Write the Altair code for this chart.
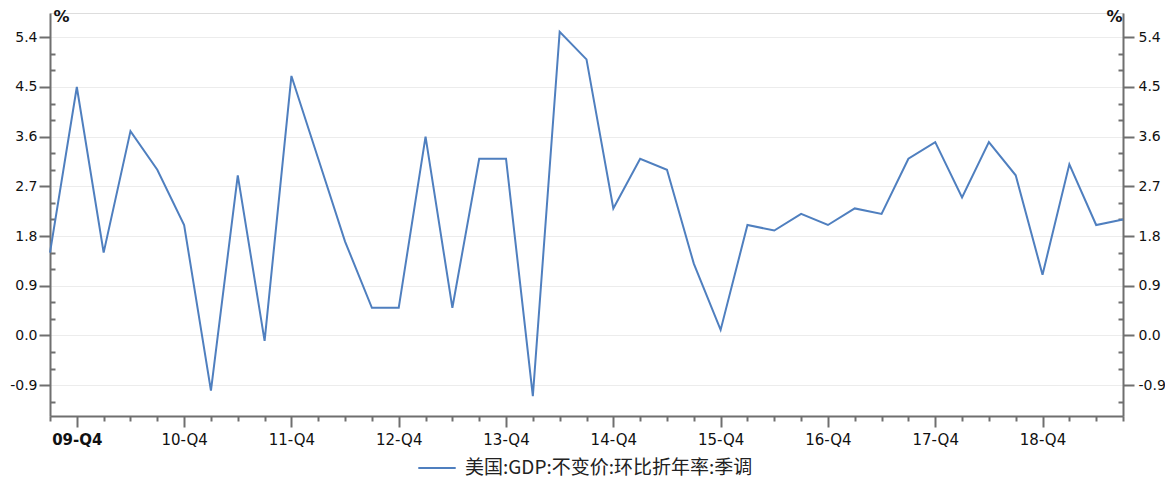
import altair as alt
import pandas as pd

quarters = ["09-Q3", "09-Q4",
            "10-Q1", "10-Q2", "10-Q3", "10-Q4",
            "11-Q1", "11-Q2", "11-Q3", "11-Q4",
            "12-Q1", "12-Q2", "12-Q3", "12-Q4",
            "13-Q1", "13-Q2", "13-Q3", "13-Q4",
            "14-Q1", "14-Q2", "14-Q3", "14-Q4",
            "15-Q1", "15-Q2", "15-Q3", "15-Q4",
            "16-Q1", "16-Q2", "16-Q3", "16-Q4",
            "17-Q1", "17-Q2", "17-Q3", "17-Q4",
            "18-Q1", "18-Q2", "18-Q3", "18-Q4",
            "19-Q1", "19-Q2", "19-Q3"]
values = [1.5, 4.5,
          1.5, 3.7, 3.0, 2.0,
          -1.0, 2.9, -0.1, 4.7,
          3.2, 1.7, 0.5, 0.5,
          3.6, 0.5, 3.2, 3.2,
          -1.1, 5.5, 5.0, 2.3,
          3.2, 3.0, 1.3, 0.1,
          2.0, 1.9, 2.2, 2.0,
          2.3, 2.2, 3.2, 3.5,
          2.5, 3.5, 2.9, 1.1,
          3.1, 2.0, 2.1]
series_name = "美国:GDP:不变价:环比折年率:季调"
y_major = [-0.9, 0.0, 0.9, 1.8, 2.7, 3.6, 4.5, 5.4]
y_minor = [-1.2, -0.6, -0.3, 0.3, 0.6, 1.2, 1.5, 2.1, 2.4, 3.0, 3.3, 3.9, 4.2, 4.8, 5.1]
y_domain = [-1.46, 5.84]

df = pd.DataFrame({"q": quarters, "v": values, "s": series_name})

W, H = 1073, 403
FONT = "DejaVu Sans"
AX = "#6f6f6f"
LINE = "#4f7fbf"
YLABEL = "replace(format(datum.value, '.1f'), '\u2212', '-')"

xscale = alt.Scale(type="point", padding=0, domain=quarters)
yscale = alt.Scale(domain=y_domain, nice=False, zero=False)

x_axis = alt.Axis(
    values=quarters,
    labelExpr="indexof(datum.value, 'Q4') >= 0 ? datum.value : ''",
    tickSize={"condition": {"test": "indexof(datum.value, 'Q4') >= 0", "value": 11}, "value": 5},
    labelFontWeight={"condition": {"test": "datum.value == '09-Q4'", "value": "bold"}, "value": "normal"},
    tickColor=AX, tickWidth=2, domainColor=AX, domainWidth=2,
    labelFont=FONT, labelFontSize=15, labelColor="#111111", labelAngle=0,
    labelPadding=5, grid=False, title=None, labelOverlap=False,
)

left_axis = alt.Axis(
    orient="left", values=y_major, labelExpr=YLABEL, tickSize=11, tickColor=AX, tickWidth=2,
    domainColor=AX, domainWidth=2, labelFont=FONT, labelFontSize=14, labelColor="#111111",
    labelPadding=2, grid=True, gridColor="#ececec", gridWidth=1,
    title="%", titleAngle=0, titleX=3, titleY=11, titleAlign="left", titleBaseline="bottom",
    titleFont=FONT, titleFontSize=16, titleFontWeight=600, titleColor="#111111",
)
right_axis = alt.Axis(
    orient="right", values=y_major, labelExpr=YLABEL, tickSize=11, tickColor=AX, tickWidth=2,
    domainColor=AX, domainWidth=2, labelFont=FONT, labelFontSize=14, labelColor="#111111",
    labelPadding=4, grid=False,
    title="%", titleAngle=0, titleX=-1, titleY=11, titleAlign="right", titleBaseline="bottom",
    titleFont=FONT, titleFontSize=16, titleFontWeight=600, titleColor="#111111",
)
left_minor = alt.Axis(
    orient="right", offset=-W, values=y_minor, tickSize=5, tickColor=AX, tickWidth=2,
    labels=False, domain=False, grid=False, title=None,
)
right_minor = alt.Axis(
    orient="left", offset=-W, values=y_minor, tickSize=5, tickColor=AX, tickWidth=2,
    labels=False, domain=False, grid=False, title=None,
)

base = alt.Chart(df)
X = alt.X("q:O", scale=xscale, axis=x_axis, sort=quarters)

main = base.mark_line(strokeWidth=2).encode(
    x=X,
    y=alt.Y("v:Q", scale=yscale, axis=left_axis),
    color=alt.Color("s:N", scale=alt.Scale(domain=[series_name], range=[LINE]),
                    legend=alt.Legend(orient="none", legendX=367, legendY=435,
                                      title=None, symbolType="stroke",
                                      symbolStrokeWidth=2, symbolSize=1400,
                                      labelFont="Noto Sans CJK SC", labelFontSize=19,
                                      labelLimit=0, labelOffset=8,
                                      labelColor="#222222")),
)

def ghost(axis):
    return base.mark_line(opacity=0).encode(
        x=X,
        y=alt.Y("v:Q", scale=yscale, axis=axis),
    )

chart = alt.layer(main, ghost(right_axis), ghost(left_minor), ghost(right_minor)).resolve_axis(
    y="independent"
).properties(
    width=W, height=H,
    autosize=alt.AutoSizeParams(type="none"),
    padding={"left": 42, "top": 5, "right": 42, "bottom": 62},
).configure_view(stroke=None).configure(background="white")

chart.save("out.html", embed_options={"renderer": "svg", "actions": False})
